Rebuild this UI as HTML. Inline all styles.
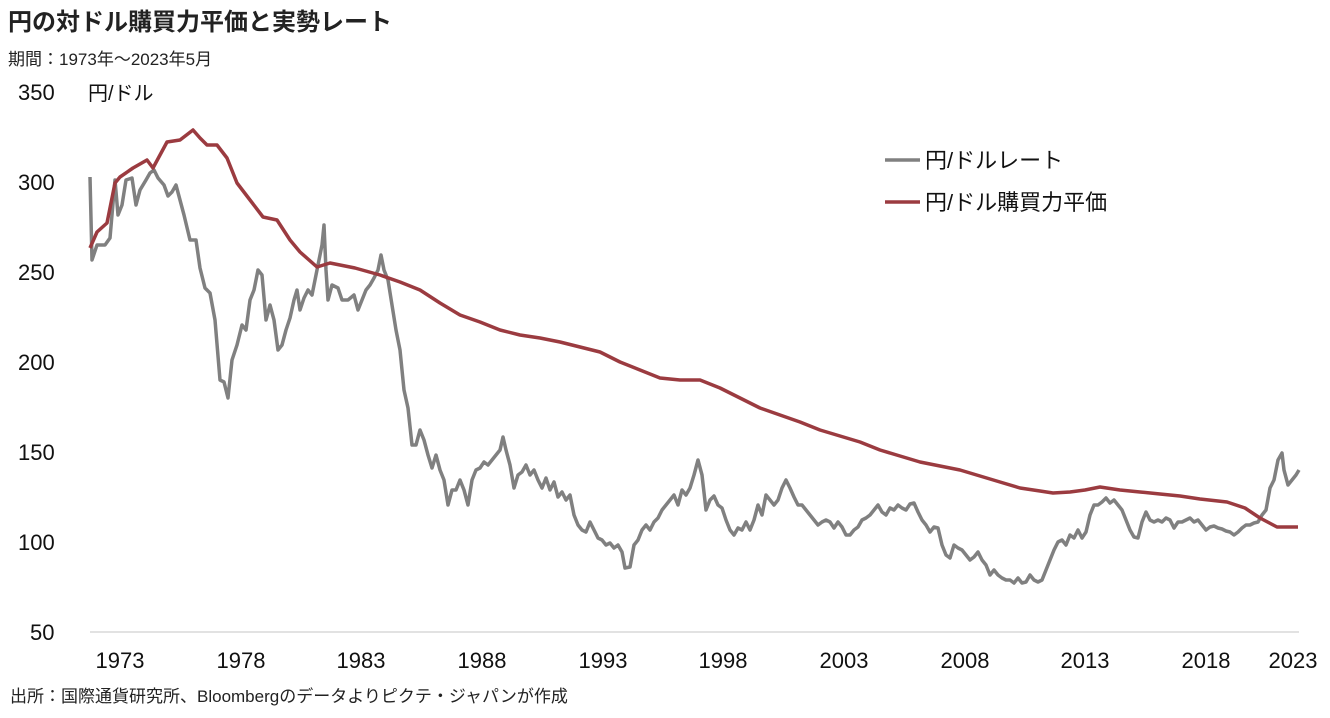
<!DOCTYPE html>
<html><head><meta charset="utf-8"><style>
body{margin:0;background:#fff;width:1330px;height:713px;overflow:hidden;font-family:"Liberation Sans","Noto Sans CJK JP",sans-serif;}
</style></head><body>
<svg width="1330" height="713" xmlns="http://www.w3.org/2000/svg" font-family="Liberation Sans, Noto Sans CJK JP, sans-serif">
<text x="8" y="30" font-size="24" font-weight="bold" fill="#222">円の対ドル購買力平価と実勢レート</text>
<text x="8" y="65" font-size="17" fill="#222">期間：1973年～2023年5月</text>
<g font-size="22" fill="#111">
<text x="18" y="100">350</text><text x="88" y="100" font-size="20">円/ドル</text>
<text x="18" y="190">300</text><text x="18" y="280">250</text><text x="18" y="370">200</text>
<text x="18" y="460">150</text><text x="18" y="550">100</text><text x="30" y="640">50</text>
<g text-anchor="middle">
<text x="120" y="668">1973</text><text x="241" y="668">1978</text><text x="361" y="668">1983</text>
<text x="482" y="668">1988</text><text x="603" y="668">1993</text><text x="723" y="668">1998</text>
<text x="844" y="668">2003</text><text x="965" y="668">2008</text><text x="1085" y="668">2013</text>
<text x="1206" y="668">2018</text><text x="1293" y="668">2023</text></g>
</g>
<line x1="90" y1="632" x2="1299" y2="632" stroke="#d9d9d9" stroke-width="1.5"/>
<polyline fill="none" stroke="#808080" stroke-width="3.5" stroke-linejoin="round" points="90,177 92,260 97,245 105,245 110,238 115,180 118,215 122,205 126,180 132,178 136,205 140,190 146,180 150,173 154,170 158,178 164,185 168,196 172,192 176,185 180,200 184,215 190,240 196,240 200,268 205,288 210,293 215,320 220,380 224,382 228,398 232,360 237,345 242,325 246,330 250,300 254,290 258,270 262,275 266,320 270,305 274,320 278,350 282,345 286,330 290,318 294,300 297,290 300,310 304,298 308,290 312,295 316,275 320,255 322,245 324,225 326,270 328,300 332,285 338,288 342,300 348,300 354,295 358,310 362,300 366,290 370,285 374,278 378,270 381,255 384,270 388,280 392,305 396,330 400,350 404,390 408,408 412,445 416,445 420,430 424,440 428,455 432,468 436,455 440,470 444,480 448,505 452,490 456,490 460,480 464,490 468,505 472,480 476,470 480,468 484,462 488,465 492,460 496,455 500,450 503,437 506,450 510,465 514,488 518,475 522,472 526,465 530,475 534,470 538,480 542,488 546,478 550,490 554,482 558,497 562,492 566,500 570,495 574,515 578,525 582,530 586,532 590,522 594,530 598,538 602,540 606,545 610,543 614,548 618,545 622,552 625,568 630,567 634,545 638,540 642,530 646,525 650,530 654,522 658,518 662,510 666,505 670,500 674,495 678,505 682,490 686,495 690,488 694,475 698,460 702,475 706,510 710,500 714,496 718,505 722,508 726,520 730,530 734,535 738,528 742,530 746,522 750,530 754,520 758,505 762,515 766,495 770,500 774,505 778,500 782,488 786,480 790,488 794,497 798,505 802,505 806,510 810,515 814,520 818,525 822,522 826,520 830,522 834,528 838,522 842,527 846,535 850,535 854,530 858,527 862,520 866,518 870,515 874,510 878,505 882,512 886,515 890,508 894,510 898,505 902,508 906,510 910,504 914,503 918,512 922,520 926,525 930,532 934,527 938,528 942,545 946,555 950,558 954,545 958,548 962,550 966,555 970,560 974,557 978,552 982,560 986,565 990,575 994,570 998,575 1002,578 1006,580 1010,580 1014,583 1018,578 1022,583 1026,582 1030,575 1034,580 1038,582 1042,580 1046,570 1050,560 1054,550 1058,542 1062,540 1066,545 1070,535 1074,538 1078,530 1082,538 1086,532 1090,515 1094,505 1098,505 1102,502 1106,498 1110,503 1114,500 1118,505 1122,510 1126,520 1130,530 1134,537 1138,538 1142,522 1146,512 1150,520 1154,522 1158,520 1162,522 1166,518 1170,520 1174,528 1178,522 1182,522 1186,520 1190,518 1194,522 1198,520 1202,525 1206,530 1210,527 1214,526 1218,528 1222,529 1226,531 1230,532 1234,535 1238,532 1242,528 1246,525 1250,525 1254,523 1258,522 1262,515 1266,510 1270,488 1274,480 1278,460 1282,453 1284,470 1288,485 1292,480 1296,475 1299,470"/>
<polyline fill="none" stroke="#9b3b40" stroke-width="3.5" stroke-linejoin="round" points="90,248 97,232 107,223 115,183 120,177 133,168 147,160 153,168 167,142 180,140 193,130 200,138 207,145 217,145 227,158 237,183 250,200 263,217 277,220 290,240 300,252 317,267 330,263 355,268 380,275 400,282 420,290 440,303 460,315 480,322 500,330 520,335 540,338 560,342 580,347 600,352 620,362 640,370 660,378 680,380 700,380 720,388 740,398 760,408 780,415 800,422 820,430 840,436 860,442 880,450 900,456 920,462 940,466 960,470 980,476 1000,482 1020,488 1040,491 1053,493 1070,492 1085,490 1100,487 1120,490 1140,492 1160,494 1180,496 1200,499 1227,502 1245,508 1260,518 1277,527 1298,527"/>
<line x1="885" y1="160" x2="920" y2="160" stroke="#808080" stroke-width="3.5"/>
<text x="925" y="168" font-size="22" fill="#111">円/ドルレート</text>
<line x1="885" y1="202" x2="920" y2="202" stroke="#9b3b40" stroke-width="3.5"/>
<text x="925" y="210" font-size="22" fill="#111">円/ドル購買力平価</text>
<text x="10" y="702" font-size="17" fill="#222">出所：国際通貨研究所、Bloombergのデータよりピクテ・ジャパンが作成</text>
</svg>
</body></html>
